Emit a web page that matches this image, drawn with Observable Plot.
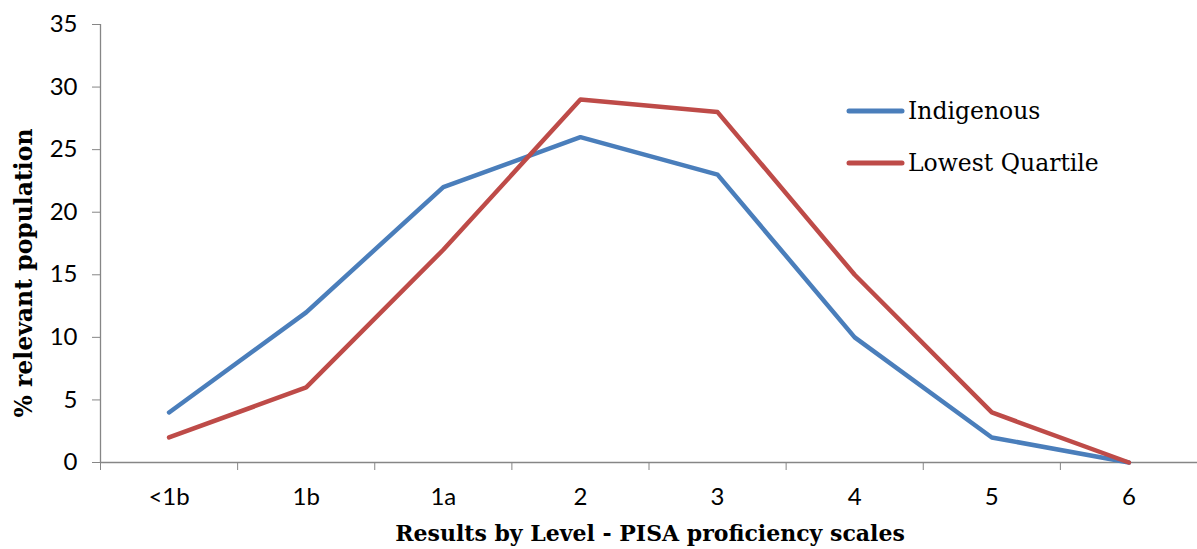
<!DOCTYPE html>
<html><head><meta charset="utf-8">
<script src="https://cdn.jsdelivr.net/npm/d3@7"></script>
<script src="https://cdn.jsdelivr.net/npm/@observablehq/plot@0.6"></script>
<style>
html,body{margin:0;padding:0;background:#fff;}
#wrap{position:relative;width:1197px;height:549px;}
#wrap svg text{font-family:Lato,"Open Sans",sans-serif !important;font-size:24px !important;}
#legend{position:absolute;left:846px;top:85px;font-family:"DejaVu Serif",serif;font-size:23.5px;color:#000;}
.item{display:flex;align-items:center;height:52px;}
.item svg{margin-right:3px;}
.title{position:absolute;font-family:"DejaVu Serif",serif;font-weight:bold;color:#000;white-space:nowrap;line-height:1;}
#xtitle{left:650px;top:533px;font-size:22px;transform:translate(-50%,-50%);}
#ytitle{left:25px;top:273px;font-size:23.5px;transform:translate(-50%,-50%) rotate(-90deg);}
</style>
</head><body><div id="wrap"><div id="legend"></div><div id="xtitle" class="title"></div><div id="ytitle" class="title"></div></div>
<script>
const categories = ["<1b","1b","1a","2","3","4","5","6"];
const indigenous = [4,12,22,26,23,10,2,0];
const lowestQuartile = [2,6,17,29,28,15,4,0];
const seriesNames = ["Indigenous","Lowest Quartile"];
const seriesColors = ["#4a7ebb","#be4b48"];
const yTicks = [0,5,10,15,20,25,30,35];
const xTitle = "Results by Level - PISA proficiency scales";
const yTitle = "% relevant population";

const data = [];
categories.forEach((c,i)=>{
  data.push({i, cat:c, value:indigenous[i], series:seriesNames[0]});
});
categories.forEach((c,i)=>{
  data.push({i, cat:c, value:lowestQuartile[i], series:seriesNames[1]});
});
const idx = categories.map((c,i)=>i);
const bounds = d3.range(categories.length+1).map(i=>i-0.5);

const chart = Plot.plot({
  width:1197, height:549,
  marginLeft:100, marginRight:0, marginTop:24, marginBottom:87,
  x:{type:"linear", domain:[-0.5, categories.length-0.5]},
  y:{domain:[0,35]},
  color:{domain:seriesNames, range:seriesColors},
  style:{fontFamily:"Lato, 'Open Sans', sans-serif", fontSize:"24px", color:"#000", background:"#fff"},
  marks:[
    Plot.axisY({ticks:yTicks, tickSize:8, tickPadding:15, stroke:"#868686", fill:"#000", fontSize:24, label:null, tickFormat:d=>String(d)}),
    Plot.axisX({ticks:idx, tickSize:0, tickPadding:25, fill:"#000", fontSize:24, tickFormat:i=>categories[i], label:null}),
    Plot.axisX({ticks:bounds, tickSize:8, stroke:"#868686", tickFormat:()=>"", label:null}),
    Plot.ruleY([0],{stroke:"#868686", strokeWidth:1.3}),
    Plot.ruleX([-0.5],{y1:0, y2:35, stroke:"#868686", strokeWidth:1.3}),
    Plot.line(data,{x:"i", y:"value", z:"series", stroke:"series", strokeWidth:4.5, strokeLinejoin:"round", strokeLinecap:"round"})
  ]
});
document.getElementById("wrap").prepend(chart);
document.getElementById("xtitle").textContent = xTitle;
document.getElementById("ytitle").textContent = yTitle;

const legend = document.getElementById("legend");
seriesNames.forEach((s,k)=>{
  const item = document.createElement("div");
  item.className="item";
  item.innerHTML = `<svg width="59" height="10"><line x1="3" y1="5" x2="56" y2="5" stroke="${seriesColors[k]}" stroke-width="5" stroke-linecap="round"/></svg><span>${s}</span>`;
  legend.appendChild(item);
});
</script>
</body></html>
